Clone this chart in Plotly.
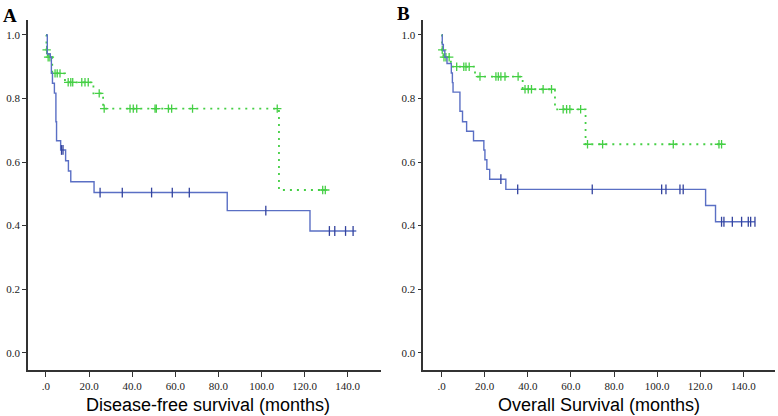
import plotly.graph_objects as go

# panel A - disease-free survival
dfs_blue_t = [0, 0.6, 2.0, 2.5, 3.0, 3.9, 4.6, 4.9, 6.8, 9.1, 10.4, 11.5, 22.3, 84.1, 122.5]
dfs_blue_s = [1.0, 0.94, 0.93, 0.88, 0.848, 0.817, 0.727, 0.667, 0.638, 0.604, 0.572, 0.538, 0.504, 0.447, 0.383]
dfs_blue_cens = [7.2, 7.9, 25.1, 35.4, 49.0, 58.6, 66.5, 102.0, 131.5, 134.0, 139.0, 142.5]
dfs_blue_end = 144.0

dfs_green_t = [0, 0.2, 0.8, 2.9, 8.8, 22.0, 26.5, 108.1]
dfs_green_s = [1.0, 0.953, 0.93, 0.879, 0.851, 0.816, 0.768, 0.512]
dfs_green_cens = [0.3, 1.0, 1.8, 4.2, 5.2, 6.5, 10.3, 11.5, 12.4, 16.6, 18.1, 19.6, 24.7, 27.0,
                  39.0, 40.5, 42.1, 50.6, 51.2, 56.8, 58.3, 68.0, 107.3, 128.4, 129.6]
dfs_green_end = 129.6

# panel B - overall survival
os_blue_t = [0, 0.3, 0.8, 1.5, 2.5, 4.5, 5.0, 5.3, 8.5, 9.7, 11.6, 14.8, 19.6, 20.1, 21.0, 22.3,
             29.8, 122.5, 127.1]
os_blue_s = [1.0, 0.97, 0.95, 0.93, 0.91, 0.88, 0.85, 0.82, 0.76, 0.727, 0.697, 0.667, 0.638, 0.607,
             0.577, 0.546, 0.514, 0.463, 0.412]
os_blue_cens = [27.5, 35.3, 69.9, 102.1, 104.1, 110.6, 112.1, 129.9, 131.0, 134.9, 139.2, 142.3,
                143.4, 145.4]
os_blue_end = 145.4

os_green_t = [0, 0.2, 0.8, 4.3, 15.5, 37.6, 52.6, 66.8]
os_green_s = [1.0, 0.953, 0.93, 0.90, 0.869, 0.829, 0.766, 0.656]
os_green_cens = [0.3, 1.1, 2.0, 3.5, 7.0, 10.3, 11.3, 12.8, 17.8, 25.2, 26.3, 27.5, 29.4, 35.5,
                 38.7, 40.2, 41.7, 47.1, 51.0, 56.4, 58.0, 59.5, 64.5, 67.7, 74.7, 107.5,
                 128.7, 129.9]
os_green_end = 129.9

x_ticks = [0, 20, 40, 60, 80, 100, 120, 140]
x_labels = [".0", "20.0", "40.0", "60.0", "80.0", "100.0", "120.0", "140.0"]
y_ticks = [0.0, 0.2, 0.4, 0.6, 0.8, 1.0]
y_labels = ["0.0", "0.2", "0.4", "0.6", "0.8", "1.0"]

BLUE = "#5a6fc4"
BLUE_DARK = "#33439e"
GREEN = "#45cf45"


def surv_at(t, times, surv):
    val = surv[0]
    for tt, ss in zip(times, surv):
        if tt <= t:
            val = ss
    return val


def km_traces(times, surv, cens, end, color, mark_color, dash, symbol, size, xa, ya):
    xs = list(times) + [end]
    ys = list(surv) + [surv[-1]]
    line = go.Scatter(
        x=xs, y=ys, mode="lines", line_shape="hv",
        line=dict(color=color, width=1.4 if dash == "solid" else 1.8, dash=dash),
        xaxis=xa, yaxis=ya, showlegend=False, hoverinfo="skip"
    )
    marks = go.Scatter(
        x=cens, y=[surv_at(c, times, surv) for c in cens], mode="markers",
        marker=dict(symbol=symbol, size=size, color=mark_color,
                    line=dict(color=mark_color, width=1.3)),
        xaxis=xa, yaxis=ya, showlegend=False, hoverinfo="skip"
    )
    return [line, marks]


DOTS = "2px,5px"

traces = []
traces += km_traces(dfs_green_t, dfs_green_s, dfs_green_cens, dfs_green_end, GREEN, GREEN, DOTS, "cross-thin", 6, "x", "y")
traces += km_traces(dfs_blue_t, dfs_blue_s, dfs_blue_cens, dfs_blue_end, BLUE, BLUE_DARK, "solid", "line-ns", 7, "x", "y")
traces += km_traces(os_green_t, os_green_s, os_green_cens, os_green_end, GREEN, GREEN, DOTS, "cross-thin", 6, "x2", "y2")
traces += km_traces(os_blue_t, os_blue_s, os_blue_cens, os_blue_end, BLUE, BLUE_DARK, "solid", "line-ns", 7, "x2", "y2")

fig = go.Figure(data=traces)

W, H = 778, 416
ydom = [1 - 370 / H, 1 - 20 / H]

xcommon = dict(
    tickvals=x_ticks, ticktext=x_labels, ticks="outside", ticklen=5, tickwidth=1.2,
    tickcolor="#333", showline=True, linecolor="#333", linewidth=1.5,
    showgrid=False, zeroline=False,
    tickfont=dict(family="Liberation Serif", size=11, color="#222"),
)
ycommon = dict(
    tickvals=y_ticks, ticktext=y_labels, ticks="outside", ticklen=4, tickwidth=1.2,
    tickcolor="#333", showline=True, linecolor="#333", linewidth=1.5,
    showgrid=False, zeroline=False, range=[-0.0545, 1.047],
    tickfont=dict(family="Liberation Serif", size=11, color="#222"),
)

fig.update_layout(
    width=W, height=H,
    margin=dict(l=0, r=0, t=0, b=0),
    paper_bgcolor="white", plot_bgcolor="white",
    xaxis=dict(domain=[28 / W, 381 / W], range=[-8.35, 155.45], anchor="y", **xcommon),
    yaxis=dict(domain=ydom, anchor="x", **ycommon),
    xaxis2=dict(domain=[423.3 / W, 775 / W], range=[-8.5, 154.7], anchor="y2", **xcommon),
    yaxis2=dict(domain=ydom, anchor="x2", **ycommon),
    annotations=[
        dict(text="Disease-free survival (months)", x=207.5 / W, y=1 - 405 / H,
             xref="paper", yref="paper", showarrow=False, xanchor="center", yanchor="middle",
             font=dict(family="Liberation Sans", size=18, color="black")),
        dict(text="Overall Survival (months)", x=599 / W, y=1 - 405 / H,
             xref="paper", yref="paper", showarrow=False, xanchor="center", yanchor="middle",
             font=dict(family="Liberation Sans", size=18, color="black")),
        dict(text="<b>A</b>", x=1 / W, y=1 - 3 / H, xref="paper", yref="paper",
             showarrow=False, xanchor="left", yanchor="top",
             font=dict(family="Liberation Serif", size=19, color="black")),
        dict(text="<b>B</b>", x=395 / W, y=1 - 1 / H, xref="paper", yref="paper",
             showarrow=False, xanchor="left", yanchor="top",
             font=dict(family="Liberation Serif", size=19, color="black")),
    ],
)

# the page body has a default margin; drop it so the figure sits at 0,0
fig.write_html("out.html", config={"displayModeBar": False},
               post_script="document.body.style.margin='0';")
